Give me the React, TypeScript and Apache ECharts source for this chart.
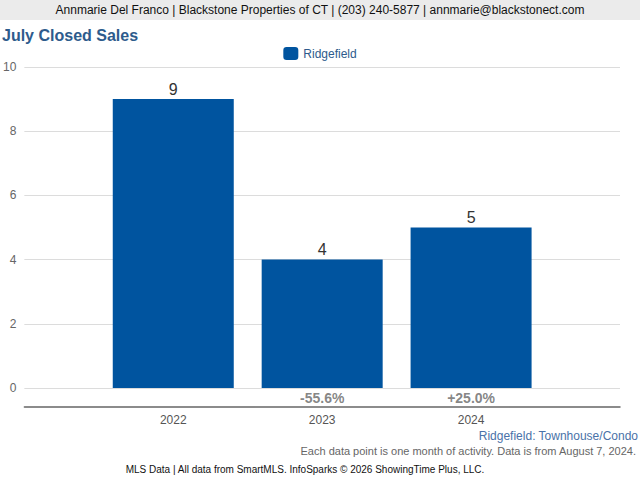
import React, { useEffect, useRef } from "react";
import * as echarts from "echarts";

const categories = ["2022", "2023", "2024"];
const closedSales = [9, 4, 5];
const changeLabels = ["", "-55.6%", "+25.0%"];
const yTicks = { min: 0, max: 10, interval: 2 };
const seriesName = "Ridgefield";

const FONT = "'Liberation Sans', Arial, Helvetica, sans-serif";
const BLUE = "#00549f";

export default function App() {
  const ref = useRef<HTMLDivElement>(null);
  useEffect(() => {
    document.body.style.margin = "0";
    const chart = echarts.init(ref.current!, null, { renderer: "svg" });
    const xData = ["", ...categories, ""];
    const barData = [null, ...closedSales, null];
    const zeroData = [null, ...categories.map(() => 0), null];
    const labelData = ["", ...changeLabels, ""];
    chart.setOption({
      animation: false,
      textStyle: { fontFamily: FONT },
      title: {
        text: "July Closed Sales",
        left: 2,
        top: 27,
        padding: 0,
        textStyle: { fontSize: 16, fontWeight: "bold", color: "#2d5b8c", fontFamily: FONT },
      },
      legend: {
        top: 42,
        left: "center",
        itemWidth: 15,
        itemHeight: 13,
        icon: "roundRect",
        textStyle: { fontSize: 12, color: "#2d5b8c", fontFamily: FONT },
        data: [seriesName],
      },
      grid: { left: 24, right: 20, top: 67, bottom: 92, containLabel: false },
      xAxis: {
        type: "category",
        data: xData,
        boundaryGap: false,
        offset: 19,
        axisLine: { show: true, onZero: false, lineStyle: { color: "#666", width: 1.5 } },
        axisTick: { show: false },
        axisLabel: { color: "#555", fontSize: 12, margin: 7, fontFamily: FONT },
        splitLine: { show: false },
      },
      yAxis: {
        type: "value",
        min: yTicks.min,
        max: yTicks.max,
        interval: yTicks.interval,
        axisLine: { show: false },
        axisTick: { show: false },
        axisLabel: { color: "#666", fontSize: 12, margin: 8, fontFamily: FONT },
        splitLine: { lineStyle: { color: "#dcdcdc", width: 1 } },
      },
      series: [
        {
          name: seriesName,
          type: "bar",
          data: barData,
          barWidth: 121,
          itemStyle: { color: BLUE },
          label: {
            show: true,
            position: "top",
            distance: 2,
            fontSize: 16,
            color: "#333",
            fontFamily: FONT,
          },
        },
        {
          name: "change",
          type: "scatter",
          data: zeroData,
          symbolSize: 0,
          silent: true,
          clip: false,
          label: {
            show: true,
            position: "bottom",
            distance: 3,
            fontSize: 14,
            fontWeight: "bold",
            color: "#666",
            fontFamily: FONT,
            formatter: (p: any) => labelData[p.dataIndex] || "",
          },
        },
      ],
      graphic: [
        {
          type: "rect",
          shape: { x: 0, y: 0, width: 640, height: 20 },
          style: { fill: "#ebebeb" },
          silent: true,
        },
        {
          type: "text",
          x: 320,
          y: 10,
          style: {
            text: "Annmarie Del Franco | Blackstone Properties of CT | (203) 240-5877 | annmarie@blackstonect.com",
            fill: "#111",
            fontSize: 12,
            fontFamily: FONT,
            align: "center",
            verticalAlign: "middle",
          },
        },
        {
          type: "text",
          x: 638,
          y: 436,
          style: {
            text: "Ridgefield: Townhouse/Condo",
            fill: "#4a72a8",
            fontSize: 12,
            fontFamily: FONT,
            align: "right",
            verticalAlign: "middle",
          },
        },
        {
          type: "text",
          x: 636,
          y: 451,
          style: {
            text: "Each data point is one month of activity. Data is from August 7, 2024.",
            fill: "#666",
            fontSize: 11,
            fontFamily: FONT,
            align: "right",
            verticalAlign: "middle",
          },
        },
        {
          type: "text",
          x: 305,
          y: 469,
          style: {
            text: "MLS Data | All data from SmartMLS. InfoSparks © 2026 ShowingTime Plus, LLC.",
            fill: "#111",
            fontSize: 10,
            fontFamily: FONT,
            align: "center",
            verticalAlign: "middle",
          },
        },
      ],
    });
    return () => chart.dispose();
  }, []);
  return <div ref={ref} style={{ width: 640, height: 480 }} />;
}
